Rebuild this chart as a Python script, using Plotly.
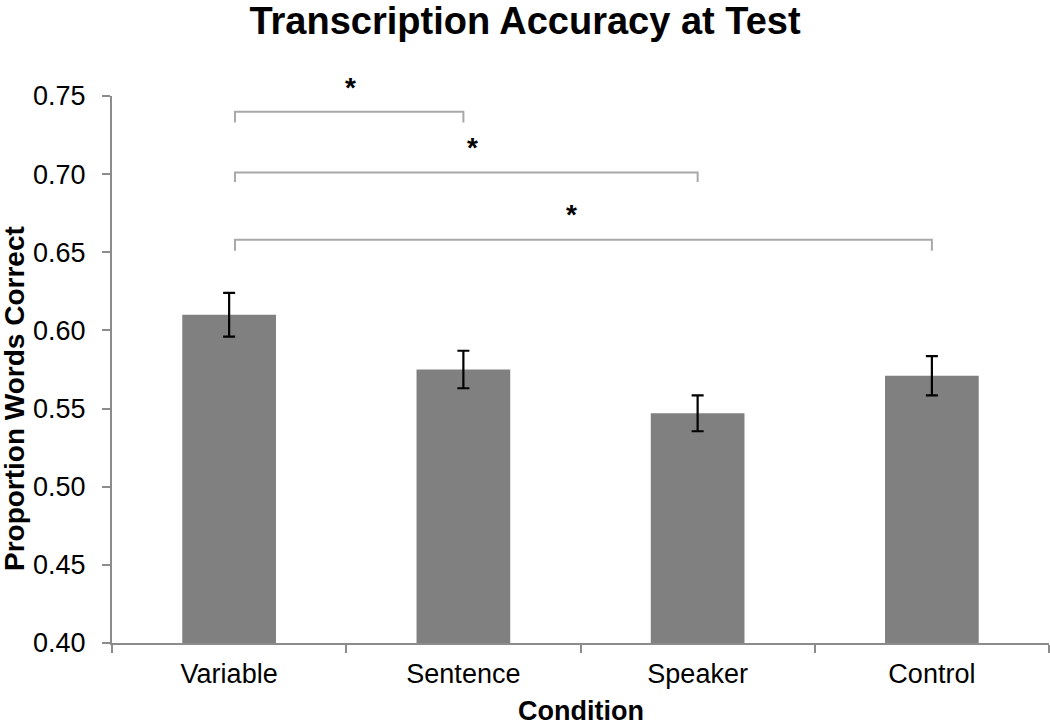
import plotly.graph_objects as go

categories = ["Variable", "Sentence", "Speaker", "Control"]
values = [0.610, 0.575, 0.547, 0.571]
errors = [0.014, 0.012, 0.0115, 0.0126]

# significance brackets: (start category index, end category index, y level)
bracket_pairs = [(0, 1), (0, 2), (0, 3)]
bracket_levels = [0.740, 0.701, 0.658]
bracket_drop = [0.007, 0.006, 0.007]
star_x = [0.52, 1.04, 1.46]
star_y = [0.7577, 0.7193, 0.677]

Y_MIN, Y_MAX = 0.40, 0.75
FONT = "Liberation Sans, Arial, sans-serif"

fig = go.Figure()
fig.add_trace(go.Bar(
    x=categories, y=values, width=0.40,
    marker=dict(color="#808080", line=dict(width=0)),
    error_y=dict(type="data", array=errors, visible=True,
                 color="black", thickness=2.2, width=6),
    showlegend=False,
))

shapes = []
for (a, b), lvl, d in zip(bracket_pairs, bracket_levels, bracket_drop):
    x0 = a + 0.025
    x1 = b
    shapes.append(dict(type="path",
                       path=f"M {x0},{lvl - d} L {x0},{lvl} L {x1},{lvl} L {x1},{lvl - d}",
                       xref="x", yref="y",
                       line=dict(color="#a9a9a9", width=2)))

annotations = []
for sx, sy in zip(star_x, star_y):
    annotations.append(dict(x=sx, y=(sy - Y_MIN) / (Y_MAX - Y_MIN), xref="x", yref="paper",
                            text="<b>*</b>", showarrow=False,
                            font=dict(size=28, color="black", family=FONT),
                            yanchor="middle", xanchor="center", yshift=-4))

annotations.append(dict(x=-0.104, y=0.447, xref="paper", yref="paper",
                        text="<b>Proportion Words Correct</b>",
                        textangle=-90, showarrow=False, xanchor="center", yanchor="middle",
                        font=dict(size=28, color="black", family=FONT)))
annotations.append(dict(x=0.5, y=-0.124, xref="paper", yref="paper",
                        text="<b>Condition</b>", showarrow=False,
                        xanchor="center", yanchor="middle",
                        font=dict(size=27, color="black", family=FONT)))

fig.update_layout(
    width=1050, height=725,
    margin=dict(l=112, r=1, t=96, b=82),
    paper_bgcolor="white", plot_bgcolor="white",
    shapes=shapes,
    annotations=annotations,
    title=dict(text="<b>Transcription Accuracy at Test</b>", x=0.5, xanchor="center", xref="container",
               y=0.972, yanchor="middle", font=dict(size=38, color="black", family=FONT)),
    font=dict(family=FONT, color="black"),
)

fig.update_xaxes(
    type="category", range=[-0.5, 3.5], showline=True, linecolor="#8c8c8c", linewidth=2,
    ticks="outside", tickson="boundaries", ticklen=8, tickcolor="#8c8c8c", tickwidth=2,
    tickfont=dict(size=27, color="black", family=FONT), showgrid=False,
    ticklabelstandoff=6,
)
fig.update_yaxes(
    range=[Y_MIN, Y_MAX], tickvals=[0.40, 0.45, 0.50, 0.55, 0.60, 0.65, 0.70, 0.75],
    tickformat=".2f", showline=True, linecolor="#8c8c8c", linewidth=2,
    ticks="outside", ticklen=8, tickcolor="#8c8c8c", tickwidth=2,
    tickfont=dict(size=27, color="black", family=FONT), showgrid=False, zeroline=False,
    ticklabelstandoff=11,
)

fig.write_html("out.html", config={"displayModeBar": False},
               post_script="document.body.style.margin='0';")
